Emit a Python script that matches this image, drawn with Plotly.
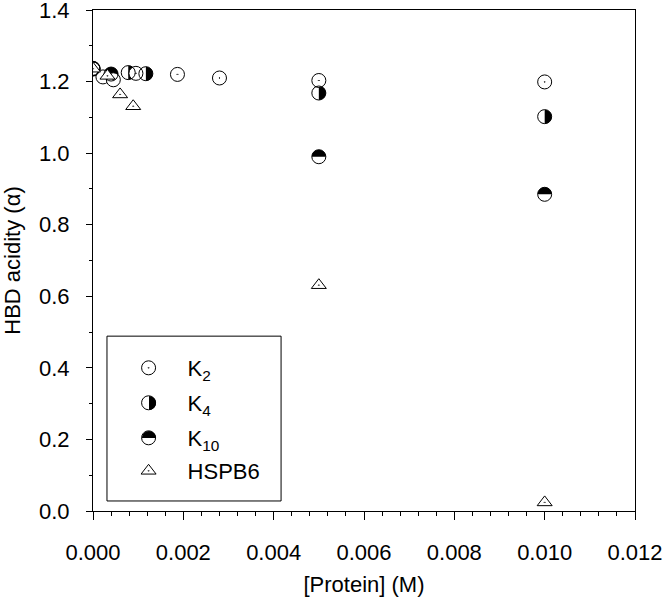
import plotly.graph_objects as go

# values
k2_x = [0.0, 0.00022, 0.00045, 0.00095, 0.00187, 0.0028, 0.005, 0.010]
k2_y = [1.235, 1.213, 1.205, 1.223, 1.220, 1.210, 1.203, 1.199]
k4_x = [0.0, 0.00078, 0.00117, 0.005, 0.010]
k4_y = [1.236, 1.225, 1.222, 1.168, 1.102]
k10_x = [0.0, 0.00040, 0.005, 0.010]
k10_y = [1.237, 1.221, 0.990, 0.885]
hspb6_x = [0.0, 0.00032, 0.00060, 0.00089, 0.005, 0.010]
hspb6_y = [1.236, 1.216, 1.164, 1.131, 0.631, 0.024]

FONT = 'Arial, Liberation Sans, sans-serif'
FS = 22
R = 7
K = 0.5523 * R
# half discs in pixel units relative to the anchor point (y up)
RIGHT_HALF = (f'M 0,{R} C {K},{R} {R},{K} {R},0 '
              f'C {R},{-K} {K},{-R} 0,{-R} Z')
UPPER_HALF = (f'M {-R},0 C {-R},{K} {-K},{R} 0,{R} '
              f'C {K},{R} {R},{K} {R},0 Z')

# legend rows (paper coords): one small legend per series
LEG_X = 0.0306
LEG_SYM_X = 0.1033
LEG_ROWS = [0.2854, 0.2156, 0.1457, 0.0798]


def half_disc(path, x, y, ref='data'):
    xr, yr = ('x', 'y') if ref == 'data' else ('paper', 'paper')
    return dict(type='path', path=path, xref=xr, yref=yr,
                xsizemode='pixel', ysizemode='pixel',
                xanchor=x, yanchor=y, fillcolor='black',
                line=dict(width=0), layer='below')


def marker(symbol, fill='white'):
    return dict(symbol=symbol, size=14, color=fill,
                line=dict(color='black', width=1))


fig = go.Figure()
fig.add_trace(go.Scatter(x=k2_x, y=k2_y, mode='markers', name='K<sub>2</sub>',
                         legend='legend', marker=marker('circle-dot')))
fig.add_trace(go.Scatter(x=k4_x, y=k4_y, mode='markers', name='K<sub>4</sub>',
                         legend='legend2', marker=marker('circle', 'rgba(0,0,0,0)')))
fig.add_trace(go.Scatter(x=k10_x, y=k10_y, mode='markers', name='K<sub>10</sub>',
                         legend='legend3', marker=marker('circle', 'rgba(0,0,0,0)')))
fig.add_trace(go.Scatter(x=hspb6_x, y=hspb6_y, mode='markers', name='HSPB6',
                         legend='legend4',
                         marker=dict(symbol='triangle-up-dot', size=13, color='white',
                                     line=dict(color='black', width=1))))

shapes = []
for x, y in zip(k4_x, k4_y):
    shapes.append(half_disc(RIGHT_HALF, x, y))
for x, y in zip(k10_x, k10_y):
    shapes.append(half_disc(UPPER_HALF, x, y))

# legend frame and the half discs of the legend symbols
shapes.append(dict(type='rect', xref='paper', yref='paper',
                   x0=0.0258, x1=0.347, y0=0.020, y1=0.349,
                   line=dict(color='black', width=1), layer='below'))
shapes.append(half_disc(RIGHT_HALF, LEG_SYM_X, LEG_ROWS[1], ref='paper'))
shapes.append(half_disc(UPPER_HALF, LEG_SYM_X, LEG_ROWS[2], ref='paper'))

axis = dict(showline=True, linecolor='black', linewidth=1, mirror=True,
            ticks='outside', tickcolor='black', showgrid=False, zeroline=False,
            automargin=False, ticklabeloverflow='allow',
            tickfont=dict(family=FONT, size=FS, color='black'))


def legend_at(y):
    return dict(x=LEG_X, y=y, xanchor='left', yanchor='middle',
                bgcolor='rgba(0,0,0,0)', borderwidth=0, itemwidth=68,
                font=dict(family=FONT, size=FS, color='black'))


fig.update_layout(
    width=664, height=604,
    margin=dict(l=93, r=29, t=10, b=93),
    plot_bgcolor='white', paper_bgcolor='white',
    font=dict(family=FONT, size=FS, color='black'),
    shapes=shapes,
    showlegend=True,
    legend=legend_at(LEG_ROWS[0]),
    legend2=legend_at(LEG_ROWS[1]),
    legend3=legend_at(LEG_ROWS[2]),
    legend4=legend_at(LEG_ROWS[3]),
    xaxis=dict(axis, range=[0, 0.012], dtick=0.002, tickformat='.3f',
               ticklen=8, tickwidth=1, ticklabelstandoff=14,
               minor=dict(dtick=0.0004, ticks='outside', ticklen=4,
                          tickcolor='black'),
               title=dict(text='[Protein] (M)', standoff=12,
                          font=dict(family=FONT, size=FS))),
    yaxis=dict(axis, range=[0, 1.4], dtick=0.2, tickformat='.1f',
               ticklen=6, tickwidth=1, ticklabelstandoff=12,
               minor=dict(dtick=0.1, ticks='outside', ticklen=3,
                          tickcolor='black'),
               title=dict(text='HBD acidity (α)', standoff=13,
                          font=dict(family=FONT, size=FS))),
)

# drop the browser's default page margin so the figure sits at (0, 0)
fig.write_html("out.html", config={'displayModeBar': False},
               post_script="document.body.style.margin = '0';")
